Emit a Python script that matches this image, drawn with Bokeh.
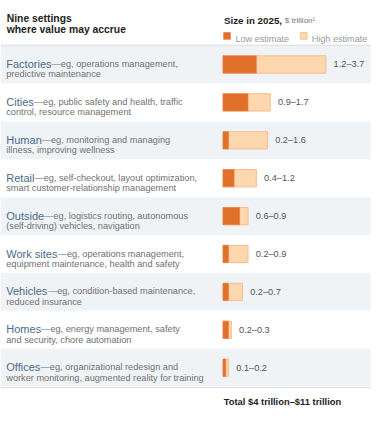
from bokeh.plotting import figure
from bokeh.models import Range1d, ColumnDataSource
from bokeh.core.properties import value
from bokeh.embed import file_html
from bokeh.resources import INLINE

# ---------------- data ----------------
categories = ["Factories", "Cities", "Human", "Retail", "Outside",
              "Work sites", "Vehicles", "Homes", "Offices"]
examples_line1 = ["—eg, operations management,",
                  "—eg, public safety and health, traffic",
                  "—eg, monitoring and managing",
                  "—eg, self-checkout, layout optimization,",
                  "—eg, logistics routing, autonomous",
                  "—eg, operations management,",
                  "—eg, condition-based maintenance,",
                  "—eg, energy management, safety",
                  "—eg, organizational redesign and"]
examples_line2 = ["predictive maintenance",
                  "control, resource management",
                  "illness, improving wellness",
                  "smart customer-relationship management",
                  "(self-driving) vehicles, navigation",
                  "equipment maintenance, health and safety",
                  "reduced insurance",
                  "and security, chore automation",
                  "worker monitoring, augmented reality for training"]
low_estimate = [1.2, 0.9, 0.2, 0.4, 0.6, 0.2, 0.2, 0.2, 0.1]
high_estimate = [3.7, 1.7, 1.6, 1.2, 0.9, 0.9, 0.7, 0.3, 0.2]
title_left = ["Nine settings", "where value may accrue"]
title_right = "Size in 2025,"
title_unit = "$ trillion¹"
legend_labels = ["Low estimate", "High estimate"]
total_label = "Total  $4 trillion–$11 trillion"

# ---------------- layout (reference pixel space 391 x 422) ----------------
W, H = 375, 406
REF_W, REF_H = 391, 422
S = W / REF_W
FONT = "Liberation Sans"
ROW0, ROWH = 66.5, 39.4          # centre of first row, row pitch (ref px)
BAR_X0, PX_PER_T = 232.0, 29.0   # bar origin, px per $ trillion

LOW_C = "#E1702A"
HIGH_C = "#FDD8AF"
HIGH_EDGE = "#F6BC8C"
BAND_C = "#F0F3F6"
NAME_C = "#4B6A87"
DESC_C = "#707070"
DARK = "#222222"

def fs(px):
    return f"{px * S:.2f}px"

# Arial-compatible advance widths (per 1000 em) for measuring names
AW = dict(zip("abcdefghijklmnopqrstuvwxyz",
              [556, 556, 500, 556, 556, 278, 556, 556, 222, 222, 500, 222, 833,
               556, 556, 556, 556, 333, 500, 278, 556, 500, 722, 500, 500, 500]))
AW.update(dict(zip("ABCDEFGHIJKLMNOPQRSTUVWXYZ",
                   [667, 667, 722, 722, 667, 611, 778, 722, 278, 500, 667, 556, 833,
                    722, 778, 667, 778, 722, 667, 611, 722, 667, 944, 667, 667, 611])))
AW[" "] = 278

def text_w(s, px):
    return sum(AW.get(c, 556) for c in s) / 1000.0 * px

NAME_PX = 11.5
DESC_PX = 9.6

p = figure(width=W, height=H, x_range=Range1d(0, REF_W), y_range=Range1d(REF_H, 0),
           output_backend="svg", toolbar_location=None, min_border=0)
p.axis.visible = False
p.grid.visible = False
p.outline_line_color = None
p.background_fill_color = "white"
p.border_fill_color = "white"

p.extra_x_ranges = {"val": Range1d(-BAR_X0 / PX_PER_T, (REF_W - BAR_X0) / PX_PER_T)}
p.extra_y_ranges = {"row": Range1d((REF_H - ROW0) / ROWH, (0 - ROW0) / ROWH)}

n = len(categories)
rows = list(range(n))

# alternating bands
band_rows = [i for i in rows if i % 2 == 0]
p.hbar(y=band_rows, left=0, right=386, height=1.0, y_range_name="row",
       fill_color=BAND_C, line_color=None)

# separator lines
p.segment(x0=[0, 0], x1=[386, 386], y0=[46.5, 402.5], y1=[46.5, 402.5],
          line_color="#D6DDE4", line_width=1)

src = ColumnDataSource(dict(
    row=rows, cat=categories, d1=examples_line1, d2=examples_line2,
    low=low_estimate, high=high_estimate,
    dx=[6 + text_w(c, NAME_PX) for c in categories],
    lab=[f"{a}–{b}" for a, b in zip(low_estimate, high_estimate)],
))

# bars
p.hbar(y="row", left=0, right="high", height=18 / ROWH, source=src,
       x_range_name="val", y_range_name="row",
       fill_color=HIGH_C, line_color=HIGH_EDGE, line_width=1)
p.hbar(y="row", left=0, right="low", height=18 / ROWH, source=src,
       x_range_name="val", y_range_name="row",
       fill_color=LOW_C, line_color="#E8834A", line_width=0.6)

# value labels
p.text(x="high", y="row", text="lab", source=src, x_range_name="val",
       y_range_name="row", x_offset=8 * S, text_baseline="middle",
       text_font=value(FONT), text_font_size=fs(9.6), text_color="#555555")

# category names and descriptions
p.text(x=6, y="row", text="cat", source=src, y_range_name="row",
       y_offset=-0.5 * S, text_baseline="alphabetic",
       text_font=value(FONT), text_font_size=fs(NAME_PX), text_color=NAME_C)
p.text(x="dx", y="row", text="d1", source=src, y_range_name="row",
       y_offset=-0.5 * S, text_baseline="alphabetic",
       text_font=value(FONT), text_font_size=fs(DESC_PX), text_color=DESC_C)
p.text(x=6, y="row", text="d2", source=src, y_range_name="row",
       y_offset=10.3 * S, text_baseline="alphabetic",
       text_font=value(FONT), text_font_size=fs(DESC_PX), text_color=DESC_C)

# header
p.text(x=[6.5, 6.5], y=[18.5, 30.5], text=title_left, text_baseline="alphabetic",
       text_font=value(FONT), text_font_size=fs(10.8), text_font_style="bold",
       text_color=DARK)
p.text(x=[233], y=[20.6], text=[title_right], text_baseline="alphabetic",
       text_font=value(FONT), text_font_size=fs(10.2), text_font_style="bold",
       text_color=DARK)
p.text(x=[296.5], y=[20.6], text=[title_unit], text_baseline="alphabetic",
       text_font=value(FONT), text_font_size=fs(8.4), text_color="#777777")

# legend
p.quad(left=[232.7, 312.7], right=[239.7, 319.7], top=[33.3, 33.3], bottom=[40.3, 40.3],
       fill_color=[LOW_C, HIGH_C], line_color=["#E8834A", HIGH_EDGE], line_width=0.8)
p.text(x=[245, 324.5], y=[40.3, 40.3], text=legend_labels, text_baseline="alphabetic",
       text_font=value(FONT), text_font_size=fs(9.5), text_color="#9A9A9A")

# total
p.text(x=[232.7], y=[417], text=[total_label], text_baseline="alphabetic",
       text_font=value(FONT), text_font_size=fs(9.8), text_font_style="bold",
       text_color=DARK)

open("out.html", "w").write(file_html(p, INLINE))
